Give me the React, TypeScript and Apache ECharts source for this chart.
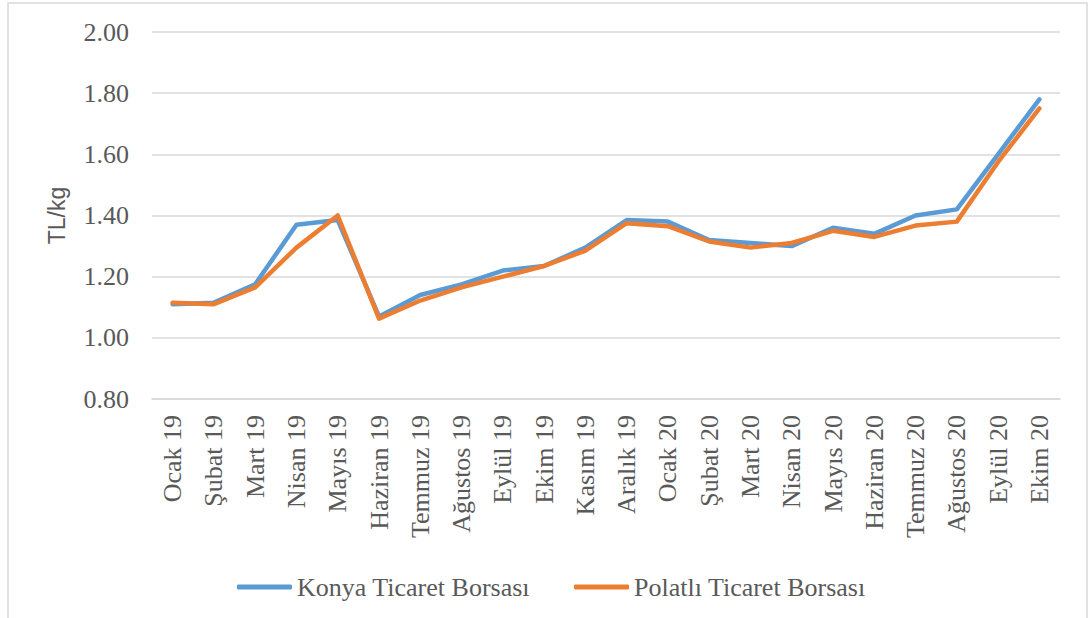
import React, { useEffect, useRef } from "react";
import * as echarts from "echarts";

const categories = [
  "Ocak 19", "Şubat 19", "Mart 19", "Nisan 19", "Mayıs 19", "Haziran 19",
  "Temmuz 19", "Ağustos 19", "Eylül 19", "Ekim 19", "Kasım 19", "Aralık 19",
  "Ocak 20", "Şubat 20", "Mart 20", "Nisan 20", "Mayıs 20", "Haziran 20",
  "Temmuz 20", "Ağustos 20", "Eylül 20", "Ekim 20",
];

const konya = [
  1.11, 1.115, 1.175, 1.37, 1.385, 1.07, 1.14, 1.175, 1.22, 1.235, 1.295, 1.385,
  1.38, 1.32, 1.31, 1.30, 1.36, 1.34, 1.40, 1.42, 1.60, 1.78,
];

const polatli = [
  1.115, 1.11, 1.165, 1.295, 1.40, 1.063, 1.122, 1.165, 1.20, 1.235, 1.285, 1.375,
  1.365, 1.315, 1.295, 1.31, 1.35, 1.33, 1.367, 1.38, 1.575, 1.75,
];

const seriesNames = ["Konya Ticaret Borsası", "Polatlı Ticaret Borsası"];
const yTicks = { min: 0.8, max: 2.0, interval: 0.2 };

export default function App() {
  const ref = useRef<HTMLDivElement>(null);
  useEffect(() => {
    if (!ref.current) return;
    const chart = echarts.init(ref.current, undefined, { renderer: "svg" });
    const serif = "'Liberation Serif', 'Times New Roman', serif";
    const txt = "#595959";
    chart.setOption({
      animation: false,
      backgroundColor: "#ffffff",
      graphic: [
        {
          type: "rect",
          shape: { x: 8, y: 3, width: 1079, height: 640 },
          style: { fill: "none", stroke: "#d9d9d9", lineWidth: 1.5 },
          silent: true,
        },
      ],
      grid: { left: 152, right: 28, top: 32, bottom: 219, containLabel: false },
      legend: {
        data: seriesNames,
        icon: "roundRect",
        left: 232,
        top: 569,
        itemWidth: 55,
        itemHeight: 5,
        itemGap: 44,
        textStyle: { fontFamily: serif, fontSize: 26, color: txt },
      },
      xAxis: {
        type: "category",
        data: categories,
        boundaryGap: true,
        axisLine: { show: true, lineStyle: { color: "#d9d9d9", width: 1.5 } },
        axisTick: { show: false },
        axisLabel: {
          rotate: 90,
          interval: 0,
          margin: 16,
          fontFamily: serif,
          fontSize: 26,
          color: txt,
        },
      },
      yAxis: {
        type: "value",
        min: yTicks.min,
        max: yTicks.max,
        interval: yTicks.interval,
        name: "TL/kg",
        nameLocation: "middle",
        nameGap: 84,
        nameRotate: 90,
        nameTextStyle: {
          fontFamily: "'Liberation Sans', Arial, sans-serif",
          fontSize: 23,
          color: txt,
        },
        axisLine: { show: false },
        axisTick: { show: false },
        splitLine: { lineStyle: { color: "#d9d9d9", width: 1.5 } },
        axisLabel: {
          margin: 23,
          fontFamily: serif,
          fontSize: 26,
          color: txt,
          formatter: (v: number) => v.toFixed(2),
        },
      },
      series: [
        {
          name: seriesNames[0],
          type: "line",
          data: konya,
          symbol: "none",
          lineStyle: { color: "#5B9BD5", width: 4.5, cap: "round", join: "round" },
          itemStyle: { color: "#5B9BD5" },
        },
        {
          name: seriesNames[1],
          type: "line",
          data: polatli,
          symbol: "none",
          lineStyle: { color: "#ED7D31", width: 4.5, cap: "round", join: "round" },
          itemStyle: { color: "#ED7D31" },
        },
      ],
    });
    return () => chart.dispose();
  }, []);
  return (
    <div
      ref={ref}
      style={{ position: "absolute", left: 0, top: 0, width: 1088, height: 618 }}
    />
  );
}
